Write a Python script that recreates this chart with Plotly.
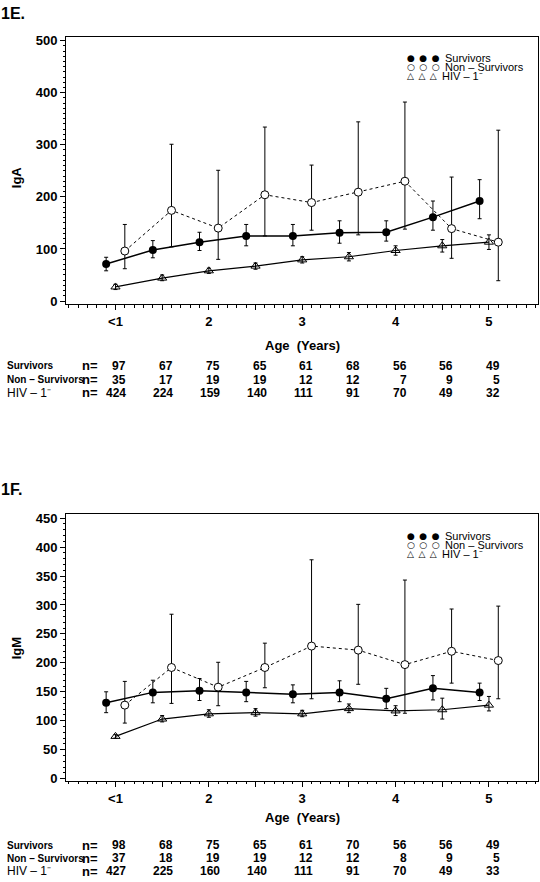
import plotly.graph_objects as go

# ---------------- data ----------------
ages = [1.0, 1.5, 2.0, 2.5, 3.0, 3.5, 4.0, 4.5, 5.0]
x_tick_labels = ["<1", "", "2", "", "3", "", "4", "", "5"]

# Panel 1E: IgA
iga_surv = [71, 98, 113, 125, 125, 131, 132, 161, 192]
iga_surv_hi = [84, 116, 132, 147, 147, 154, 154, 192, 233]
iga_surv_lo = [58, 83, 97, 106, 106, 111, 115, 136, 158]

iga_non = [96, 174, 140, 204, 189, 209, 230, 139, 113]
iga_non_hi = [147, 301, 251, 334, 261, 344, 382, 238, 328]
iga_non_lo = [62, 104, 80, 125, 136, 127, 138, 82, 39]

iga_hiv = [27, 44, 58, 67, 79, 85, 97, 106, 113]
iga_hiv_hi = [32, 50, 63, 73, 85, 93, 106, 118, 127]
iga_hiv_lo = [22, 39, 53, 61, 73, 77, 88, 94, 99]

n_iga_surv = [97, 67, 75, 65, 61, 68, 56, 56, 49]
n_iga_non = [35, 17, 19, 19, 12, 12, 7, 9, 5]
n_iga_hiv = [424, 224, 159, 140, 111, 91, 70, 49, 32]

# Panel 1F: IgM
igm_surv = [131, 149, 152, 149, 146, 149, 138, 156, 149]
igm_surv_hi = [150, 170, 173, 168, 162, 169, 156, 178, 165]
igm_surv_lo = [114, 131, 135, 133, 131, 133, 121, 136, 135]

igm_non = [127, 192, 158, 192, 229, 222, 197, 220, 204]
igm_non_hi = [168, 284, 201, 234, 378, 301, 343, 293, 298]
igm_non_lo = [96, 130, 126, 157, 138, 163, 113, 165, 138]

igm_hiv = [73, 103, 112, 114, 112, 121, 117, 119, 127]
igm_hiv_hi = [76, 109, 119, 121, 118, 129, 126, 139, 142]
igm_hiv_lo = [70, 98, 106, 108, 107, 114, 109, 103, 117]

n_igm_surv = [98, 68, 75, 65, 61, 70, 56, 56, 49]
n_igm_non = [37, 18, 19, 19, 12, 12, 8, 9, 5]
n_igm_hiv = [427, 225, 160, 140, 111, 91, 70, 49, 33]

group_names = ["Survivors", "Non \u2013 Survivors", "HIV \u2013 1\u207b"]

# ---------------- layout helpers ----------------
W, H = 540, 882
DODGE = 0.1
FONT = "Liberation Sans, Arial, Helvetica, sans-serif"


def py(p):
    return 1 - p / H


def pxx(p):
    return p / W


fig = go.Figure()


def err(v, hi, lo):
    return dict(type="data", symmetric=False,
                array=[h - a for a, h in zip(v, hi)],
                arrayminus=[a - l for a, l in zip(v, lo)],
                color="black", thickness=1, width=2)


def add_panel(xa, ya, surv, shi, slo, non, nhi, nlo, hiv, hhi, hlo):
    fig.add_trace(go.Scatter(
        x=[a + DODGE for a in ages], y=non, xaxis=xa, yaxis=ya, mode="lines+markers",
        line=dict(color="black", width=1, dash="3px,3px"),
        marker=dict(symbol="circle", size=8, color="white",
                    line=dict(width=1, color="black")),
        error_y=err(non, nhi, nlo), showlegend=False))
    fig.add_trace(go.Scatter(
        x=ages, y=hiv, xaxis=xa, yaxis=ya, mode="lines+markers",
        line=dict(color="black", width=1.2),
        marker=dict(symbol="triangle-up-open", size=8, color="black", line=dict(width=1)),
        error_y=err(hiv, hhi, hlo), showlegend=False))
    fig.add_trace(go.Scatter(
        x=[a - DODGE for a in ages], y=surv, xaxis=xa, yaxis=ya, mode="lines+markers",
        line=dict(color="black", width=1.5),
        marker=dict(symbol="circle", size=8, color="black"),
        error_y=err(surv, shi, slo), showlegend=False))


add_panel("x", "y", iga_surv, iga_surv_hi, iga_surv_lo, iga_non, iga_non_hi, iga_non_lo,
          iga_hiv, iga_hiv_hi, iga_hiv_lo)
add_panel("x2", "y2", igm_surv, igm_surv_hi, igm_surv_lo, igm_non, igm_non_hi, igm_non_lo,
          igm_hiv, igm_hiv_hi, igm_hiv_lo)

xdom = [pxx(66), pxx(537.5)]
tickfont = dict(family=FONT, size=13, color="black", weight="bold")
xcommon = dict(domain=xdom, range=[0.47, 5.52], tickmode="array", tickvals=ages,
               ticktext=x_tick_labels, ticks="outside", ticklen=5, tickwidth=1,
               tickcolor="black", showline=True, linecolor="black", linewidth=1,
               mirror=True, showgrid=False, zeroline=False, tickfont=tickfont,
               minor=dict(tickmode="linear", tick0=0, dtick=0.1, ticks="outside",
                          ticklen=2.5, tickcolor="black", tickwidth=1, showgrid=False))
ycommon = dict(ticks="outside", ticklen=5, tickwidth=1, tickcolor="black",
               showline=True, linecolor="black", linewidth=1, mirror=True,
               showgrid=False, zeroline=False, tickfont=tickfont,
               minor=dict(tickmode="linear", tick0=0, dtick=10, ticks="outside",
                          ticklen=2.5, tickcolor="black", tickwidth=1, showgrid=False))

fig.update_layout(
    width=W, height=H, margin=dict(l=0, r=0, t=0, b=0),
    paper_bgcolor="white", plot_bgcolor="white",
    xaxis=dict(anchor="y", **xcommon),
    yaxis=dict(anchor="x", domain=[py(303.5), py(33.3)], range=[-6.5, 507],
               tickvals=[0, 100, 200, 300, 400, 500], **ycommon),
    xaxis2=dict(anchor="y2", **xcommon),
    yaxis2=dict(anchor="x2", domain=[py(785), py(515.3)], range=[-4, 457],
                tickvals=[0, 50, 100, 150, 200, 250, 300, 350, 400, 450], **ycommon),
)

ann = []


def txt(x, y, s, size=12, bold=False, xanchor="left", xref="paper", xshift=0,
        angle=0, family=FONT):
    f = dict(family=family, size=size, color="black")
    if bold:
        f["weight"] = "bold"
    ann.append(dict(x=x, y=y, xref=xref, yref="paper", text=s, showarrow=False,
                    xanchor=xanchor, yanchor="middle", font=f, xshift=xshift,
                    textangle=angle, borderpad=0))


def decorate(xref, label, ytitle, pos, n_rows):
    txt(pxx(0), py(pos["label"]), label, size=16, bold=True)
    txt(pxx(16), py(pos["ytitle"]), ytitle, size=13, bold=True, xanchor="center", angle=-90)
    txt(pxx(302), py(pos["xtitle"]), "Age  (Years)", size=13, bold=True, xanchor="center")
    syms = ["\u25cf", "\u25cb", "\u25b3"]
    for i, (s, name) in enumerate(zip(syms, group_names)):
        yy = pos["legend"][i]
        txt(pxx(406), py(yy), "\u2002".join([s] * 3), size=9, family="DejaVu Sans")
        txt(pxx(444 if i < 2 else 441), py(yy), name, size=11)
    label_sizes = [10, 10, 12]
    for i, (name, ns) in enumerate(zip(group_names, n_rows)):
        yy = pos["rows"][i]
        txt(pxx(6), py(yy), name, size=label_sizes[i],
            family="Liberation Sans Narrow, " + FONT, bold=(i < 2))
        txt(pxx(81), py(yy), "n=", size=13, bold=True)
        for a, n in zip(ages, ns):
            txt(a, py(yy), str(n), size=12, bold=True, xanchor="right",
                xref=xref, xshift=12)


decorate("x", "1E.", "IgA",
         dict(label=10, ytitle=175, xtitle=345, legend=[54.5, 63.5, 73],
              rows=[365.7, 379.5, 392.7]),
         [n_iga_surv, n_iga_non, n_iga_hiv])
decorate("x2", "1F.", "IgM",
         dict(label=490, ytitle=651, xtitle=821.7, legend=[537, 546.5, 556],
              rows=[850, 863, 876]),
         [n_igm_surv, n_igm_non, n_igm_hiv])

fig.update_layout(annotations=ann)
fig.write_html("out.html", config={"displayModeBar": False},
               post_script="document.body.style.margin='0';")
